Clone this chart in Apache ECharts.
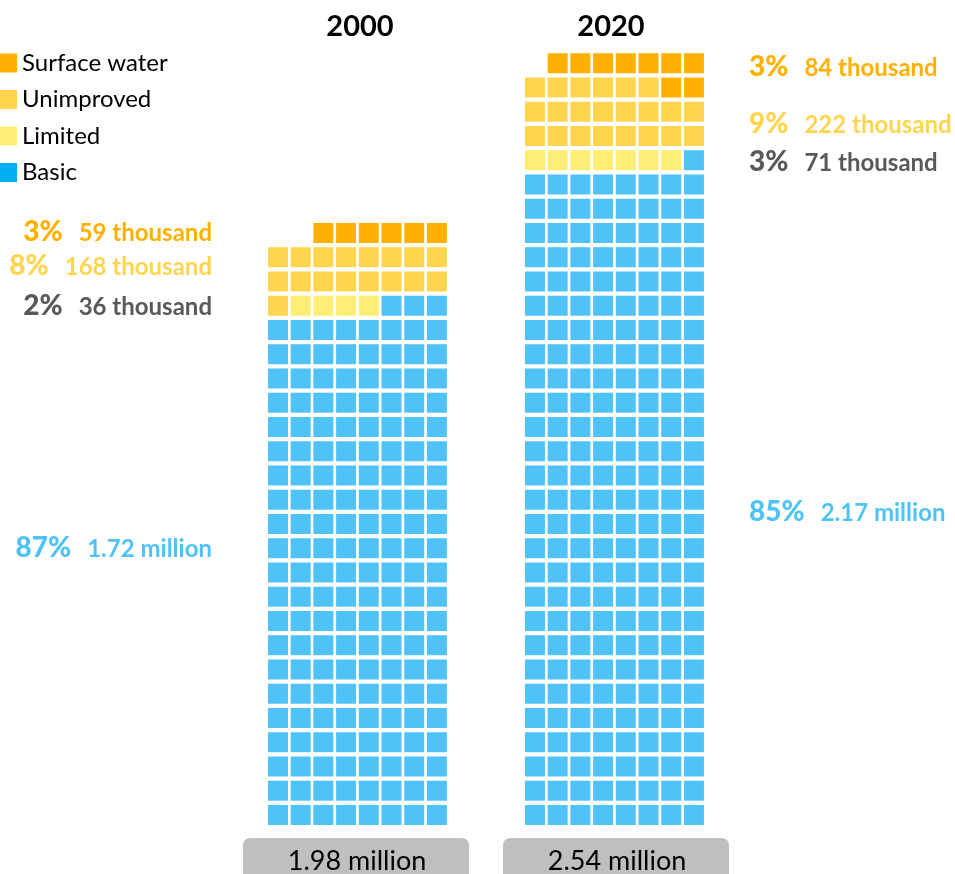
<!DOCTYPE html>
<html>
<head>
<meta charset="utf-8">
<title>Drinking water services, 2000 and 2020</title>
<script src="https://cdn.jsdelivr.net/npm/echarts@6/dist/echarts.min.js"></script>
<style>
  html, body { margin: 0; padding: 0; background: #ffffff; }
  #chart { width: 955px; height: 874px; }
</style>
</head>
<body>
<div id="chart"></div>
<script>
// Service levels, stacked from the bottom of each waffle upwards
const categories = ['Basic', 'Limited', 'Unimproved', 'Surface water'];
const years = ['2000', '2020'];

// Number of squares per service level (one square = 10 thousand people)
const cells2000 = [171, 4, 17, 6];
const cells2020 = [217, 7, 22, 9];

// Shares and population figures printed next to each waffle
const pct2000 = ['87%', '2%', '8%', '3%'];
const pop2000 = ['1.72 million', '36 thousand', '168 thousand', '59 thousand'];
const pct2020 = ['85%', '3%', '9%', '3%'];
const pop2020 = ['2.17 million', '71 thousand', '222 thousand', '84 thousand'];

// Total population per year
const totals = ['1.98 million', '2.54 million'];

// ---- styling ----
const FONT = 'Lato, "Noto Sans", sans-serif';
const cellColors = ['#4FC3F7', '#FFEE75', '#FFD44F', '#FFB000'];
const labelColors = ['#4FC3F7', '#595959', '#FFD44F', '#FFB000'];
const legendBasic = '#00B0F0';
const COLS = 8;
const ROWS = 32;

// Lay squares out row by row from the bottom, snaking left/right;
// an unfinished top row is pushed to the right edge.
function waffle(counts) {
  const total = counts.reduce((a, b) => a + b, 0);
  const lastStart = Math.floor((total - 1) / COLS) * COLS;
  const lastLen = total - lastStart;
  const out = counts.map(() => []);
  let i = 0;
  counts.forEach((n, k) => {
    for (let j = 0; j < n; j++, i++) {
      const row = Math.floor(i / COLS);
      const pos = i % COLS;
      let col;
      if (i >= lastStart && lastLen < COLS) col = COLS - lastLen + pos;
      else col = row % 2 === 0 ? pos : COLS - 1 - pos;
      out[k].push([col, row]);
    }
  });
  return out;
}

const waffles = [waffle(cells2000), waffle(cells2020)];

const gridLefts = [266.6, 523.6];
const gridTop = 51.1;
const rowPitch = 24.25;
const colPitch = 22.71;

const series = [];
waffles.forEach((w, g) => {
  w.forEach((pts, k) => {
    series.push({
      type: 'scatter',
      name: categories[k],
      xAxisIndex: g,
      yAxisIndex: g,
      symbol: 'rect',
      symbolSize: [20, 20],
      itemStyle: { color: cellColors[k], opacity: 1 },
      silent: true,
      data: pts
    });
  });
});

// Side labels: heavy share followed by bold population figure
const PCT_SIZE = 28;
const PCT_WEIGHT = 900;
const POP_SIZE = 24;
const GAP = 16;
const measureCtx = document.createElement('canvas').getContext('2d');
function textWidth(str, size, weight) {
  measureCtx.font = weight + ' ' + size + 'px ' + FONT;
  return measureCtx.measureText(str).width;
}
function textEl(str, size, weight, color, x, y, align) {
  return {
    type: 'text', x: x, y: y, silent: true,
    style: { text: str, align: align, verticalAlign: 'middle', fontFamily: FONT, fontWeight: weight, fontSize: size, fill: color }
  };
}
function sideLabel(pct, pop, color, x, y, side) {
  if (side === 'left') {
    const popW = textWidth(pop, POP_SIZE, 'bold');
    return [
      textEl(pop, POP_SIZE, 'bold', color, x, y, 'right'),
      textEl(pct, PCT_SIZE, PCT_WEIGHT, color, x - popW - GAP, y - 1.5, 'right')
    ];
  }
  const pctW = textWidth(pct, PCT_SIZE, PCT_WEIGHT);
  return [
    textEl(pct, PCT_SIZE, PCT_WEIGHT, color, x, y - 1.5, 'left'),
    textEl(pop, POP_SIZE, 'bold', color, x + pctW + GAP, y, 'left')
  ];
}

const leftLabelY = [549, 307, 267, 233];
const rightLabelY = [513, 163, 125, 68];

const graphics = [];
categories.forEach((c, k) => {
  graphics.push(...sideLabel(pct2000[k], pop2000[k], labelColors[k], 212, leftLabelY[k], 'left'));
  graphics.push(...sideLabel(pct2020[k], pop2020[k], labelColors[k], 749, rightLabelY[k], 'right'));
});

// Year headings
const titleX = [360, 611];
years.forEach((y, g) => {
  graphics.push({
    type: 'text', x: titleX[g], y: 27, silent: true,
    style: { text: y, align: 'center', verticalAlign: 'middle', fontFamily: FONT, fontWeight: 'bold', fontSize: 29, fill: '#000000' }
  });
});

// Total population boxes under each waffle
const boxX = [243, 503];
totals.forEach((t, g) => {
  graphics.push({
    type: 'rect', silent: true,
    shape: { x: boxX[g], y: 838, width: 226, height: 60, r: 7 },
    style: { fill: '#BFBFBF' }
  });
  graphics.push({
    type: 'text', x: boxX[g] + 114, y: 861, silent: true,
    style: { text: t, align: 'center', verticalAlign: 'middle', fontFamily: FONT, fontSize: 27, fill: '#000000' }
  });
});

const chart = echarts.init(document.getElementById('chart'), null, { renderer: 'canvas' });
chart.setOption({
  animation: false,
  backgroundColor: '#ffffff',
  grid: gridLefts.map(l => ({ left: l, top: gridTop, width: colPitch * COLS, height: rowPitch * ROWS })),
  xAxis: gridLefts.map((l, g) => ({ gridIndex: g, type: 'value', min: -0.5, max: COLS - 0.5, show: false })),
  yAxis: gridLefts.map((l, g) => ({ gridIndex: g, type: 'value', min: -0.5, max: ROWS - 0.5, show: false })),
  legend: {
    orient: 'vertical',
    left: 0,
    top: 51,
    padding: 0,
    icon: 'rect',
    itemWidth: 17,
    itemHeight: 19,
    itemGap: 12.5,
    selectedMode: false,
    textStyle: { fontFamily: FONT, fontSize: 24, color: '#000000', lineHeight: 19 },
    data: [
      { name: 'Surface water' },
      { name: 'Unimproved' },
      { name: 'Limited' },
      { name: 'Basic', itemStyle: { color: legendBasic } }
    ]
  },
  series: series,
  graphic: graphics
});
</script>
</body>
</html>
